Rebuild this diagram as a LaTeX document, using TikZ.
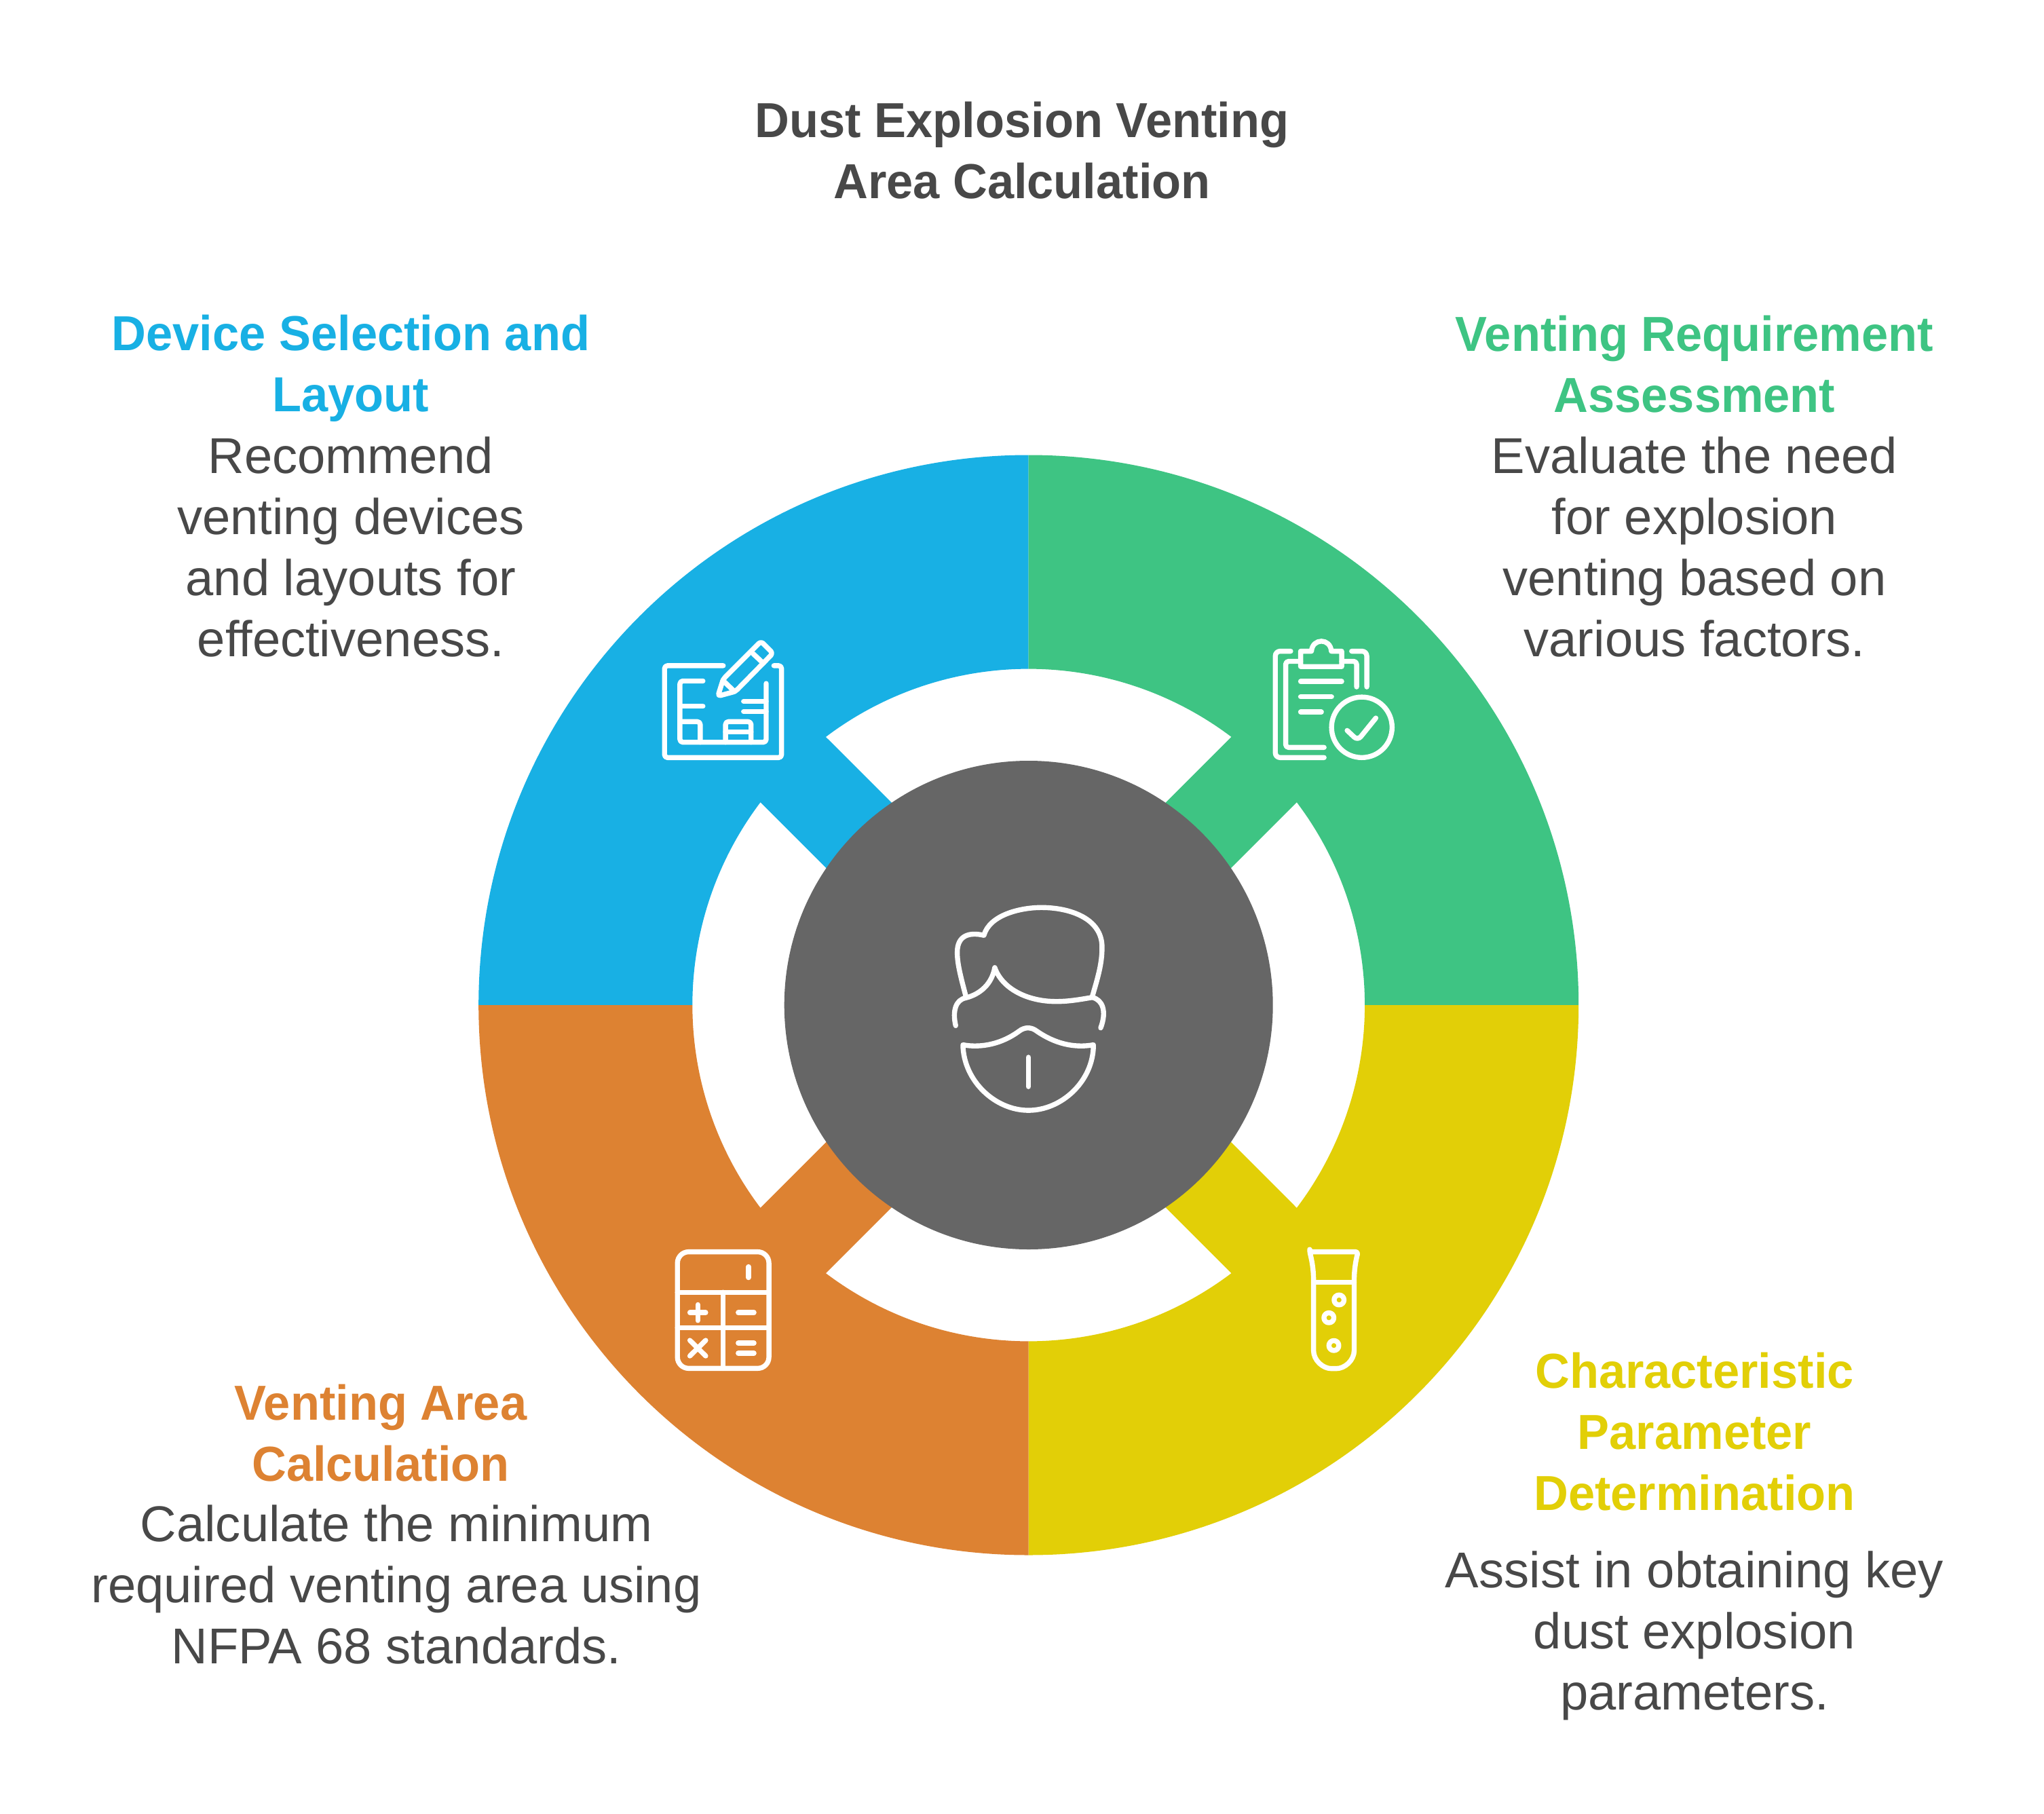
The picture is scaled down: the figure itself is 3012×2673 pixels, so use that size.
\documentclass[tikz,border=0pt]{standalone}
\usepackage{fontspec}
\setmainfont[BoldFeatures={FakeStretch=0.972}]{Liberation Sans}
\definecolor{bluesec}{HTML}{18B0E4}
\definecolor{greensec}{HTML}{3EC483}
\definecolor{orangesec}{HTML}{DD8232}
\definecolor{yellowsec}{HTML}{E2CF07}
\definecolor{hubgrey}{HTML}{666666}
\definecolor{inkgrey}{HTML}{484848}
\newcommand{\headfont}{\fontsize{20.6}{25.6}\selectfont\bfseries}
\newcommand{\bodyfont}{\fontsize{21.1}{25.6}\selectfont}
\tikzset{
  x=0.01cm,y=-0.01cm,
  icon/.style={draw=white,line width=2.1pt,line cap=round,line join=round,fill=none},
  heading/.style={align=center,inner sep=0pt,font=\headfont},
  bodytext/.style={align=center,inner sep=0pt,font=\bodyfont,text=inkgrey},
  zoomed/.style={shift={#1},x=0.003333cm,y=-0.003333cm}
}
\begin{document}
\begin{tikzpicture}
\useasboundingbox (0,0) rectangle (3012,2673);
\fill[white] (0,0) rectangle (3012,2673);

% Four quadrants; each one reaches the hub along its diagonal strip
\begin{scope}[shift={(1515.7,1481)}]
  \def\Ro{810.5} \def\Ri{495.4} \def\Rs{307.6}
  \foreach \a/\col in {180/bluesec,270/greensec,0/yellowsec,90/orangesec}{
    \pgfmathsetmacro{\aEnd}{\a+90}
    \pgfmathsetmacro{\tipHi}{\a+52.9}
    \pgfmathsetmacro{\tipLo}{\a+37.1}
    \pgfmathsetmacro{\footHi}{\a+57.8}
    \pgfmathsetmacro{\footLo}{\a+32.2}
    \fill[\col]
      (\a:\Ro) arc[start angle=\a,end angle=\aEnd,radius=\Ro]
      -- (\aEnd:\Ri) arc[start angle=\aEnd,end angle=\tipHi,radius=\Ri]
      -- (\footHi:\Rs) -- (\footLo:\Rs)
      -- (\tipLo:\Ri) arc[start angle=\tipLo,end angle=\a,radius=\Ri]
      -- cycle;
  }
  \fill[hubgrey] (0,0) circle[radius=360];
\end{scope}

% Plan and pencil
\begin{scope}[zoomed={(940,900)}]
  \draw[icon,rounded corners=1.2pt] (378,243) -- (118,243) -- (118,650) -- (636,650) -- (636,243) -- (602,243);
  \draw[icon,rounded corners=1.2pt] (288,311) -- (186,311) -- (186,582) -- (568,582) -- (568,322);
  \draw[icon] (186,423) -- (288,423) (568,401) -- (468,401) (568,446) -- (468,446);
  \draw[icon,rounded corners=1.2pt] (186,491) -- (276,491) -- (276,582);
  \draw[icon,rounded corners=1.2pt] (388,582) -- (388,491) -- (501,491) -- (501,582);
  \draw[icon] (388,537) -- (501,537);
  \draw[icon,rounded corners=1.2pt] (354,378) -- (378,302) -- (545,135) -- (598,188) -- (432,357) -- cycle;
  \draw[icon] (376,308) -- (428,358) (510,190) -- (555,232);
\end{scope}

% Clipboard with check mark
\begin{scope}[zoomed={(1840,900)}]
  \draw[icon,rounded corners=2pt] (186,179) -- (118,179) -- (118,650) -- (334,650);
  \draw[icon,rounded corners=2pt] (456,179) -- (523,179) -- (523,337);
  \draw[icon,rounded corners=1.2pt] (230,224) -- (164,224) -- (164,605) -- (334,605);
  \draw[icon,rounded corners=1.2pt] (412,224) -- (478,224) -- (478,337);
  \draw[icon] (230,247) -- (412,247) -- (412,179) -- (366,179)
     .. controls (362,120) and (282,120) .. (278,179) -- (230,179) -- cycle;
  \draw[icon] (230,313) -- (412,313) (230,381) -- (367,381) (230,448) -- (322,448);
  \draw[icon] (501,516) circle[radius=134];
  \draw[icon,rounded corners=2pt] (436,530) -- (483,574) -- (563,475);
\end{scope}

% Calculator
\begin{scope}[zoomed={(960,1810)}]
  \draw[icon,rounded corners=4.7pt] (115,104) rectangle (520,620);
  \draw[icon] (115,283) -- (520,283) (115,441) -- (520,441) (317,283) -- (317,620);
  \draw[icon] (430,170) -- (430,218);
  \draw[icon] (170,373) -- (240,373) (205,338) -- (205,408) (384,373) -- (454,373);
  \draw[icon] (170,496) -- (240,565) (240,496) -- (170,565);
  \draw[icon] (384,508) -- (454,508) (384,553) -- (454,553);
\end{scope}

% Test tube
\begin{scope}[zoomed={(1880,1810)}]
  \draw[icon,rounded corners=1pt] (150,104) -- (364,104)
     .. controls (355,140) and (347,180) .. (347,238) -- (347,530)
     .. controls (347,585) and (305,621) .. (257,621)
     .. controls (209,621) and (167,585) .. (167,530) -- (167,238)
     .. controls (167,180) and (159,140) .. (150,104) -- cycle;
  \draw[icon] (167,238) -- (347,238);
  \draw[icon] (280,317) circle[radius=22] (235,396) circle[radius=22] (257,519) circle[radius=22];
\end{scope}

% Masked head on the hub
\begin{scope}[zoomed={(1370,1300)}]
  \draw[icon] (160,505) .. controls (135,410) and (122,360) .. (122,310)
     .. controls (122,235) and (175,220) .. (240,235)
     .. controls (265,145) and (400,112) .. (495,112)
     .. controls (620,112) and (765,160) .. (763,290)
     .. controls (763,360) and (745,420) .. (720,505);
  \draw[icon] (115,635) .. controls (100,570) and (115,520) .. (160,512)
     .. controls (225,495) and (275,450) .. (288,378)
     .. controls (320,470) and (430,528) .. (560,528)
     .. controls (620,528) and (670,518) .. (720,510)
     .. controls (765,520) and (785,570) .. (757,645);
  \draw[icon] (147,720) .. controls (230,735) and (320,715) .. (395,660)
     .. controls (420,640) and (450,640) .. (475,660)
     .. controls (555,715) and (640,735) .. (725,720)
     .. controls (725,880) and (585,1010) .. (437,1010)
     .. controls (290,1010) and (150,880) .. (147,720) -- cycle;
  \draw[icon] (437,775) -- (437,905);
\end{scope}

% Labels
\node[heading,text=inkgrey] (title) at (1506,222) {Dust Explosion Venting\\Area Calculation};
\node[heading,text=bluesec] (devhead) at (517,543) {Device Selection and\\Layout};
\node[bodytext] (devbody) at (517,806) {Recommend\\venting devices\\and layouts for\\effectiveness.};
\node[heading,text=greensec] (venthead) at (2497,537) {Venting Requirement\\Assessment};
\node[bodytext] (ventbody) at (2497,806) {Evaluate the need\\for explosion\\venting based on\\various factors.};
\node[heading,text=orangesec] (areahead) at (561,2112) {Venting Area\\Calculation};
\node[bodytext] (areabody) at (584,2335) {Calculate the minimum\\required venting area using\\NFPA 68 standards.};
\node[heading,text=yellowsec] (charhead) at (2497,2110) {Characteristic\\Parameter\\Determination};
\node[bodytext] (charbody) at (2497,2410) {Assist in obtaining key\\dust explosion\\parameters.};
\end{tikzpicture}
\end{document}
